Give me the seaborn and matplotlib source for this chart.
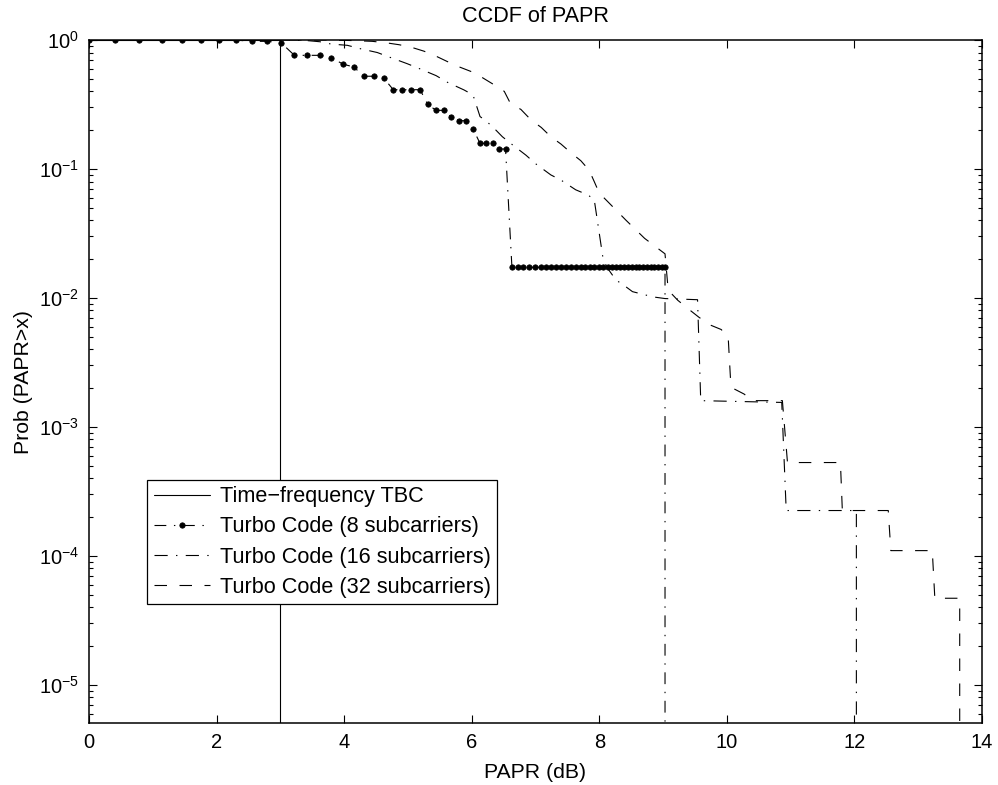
import matplotlib
matplotlib.use("Agg")
import matplotlib.pyplot as plt
import seaborn as sns

# ---------------- data ----------------
labels = ["Time\u2212frequency TBC",
          "Turbo Code (8 subcarriers)",
          "Turbo Code (16 subcarriers)",
          "Turbo Code (32 subcarriers)"]

papr_tbc = [0.0, 3.0, 3.0]
prob_tbc = [1.0, 1.0, 0.0]

papr_8 = [0.00, 0.41, 0.79, 1.14, 1.46, 1.76, 2.04, 2.30, 2.55, 2.79,
          3.01, 3.22, 3.42, 3.62, 3.80, 3.98, 4.15, 4.31, 4.47, 4.62,
          4.77, 4.91, 5.05, 5.19, 5.31, 5.44, 5.56, 5.68, 5.80, 5.91,
          6.02, 6.13, 6.23, 6.33, 6.43, 6.53, 6.63, 6.72, 6.81, 6.90,
          6.99, 7.08, 7.16, 7.24, 7.32, 7.40, 7.48, 7.56, 7.63, 7.71,
          7.78, 7.85, 7.92, 7.99, 8.06, 8.13, 8.20, 8.26, 8.33, 8.39,
          8.45, 8.51, 8.57, 8.63, 8.69, 8.75, 8.81, 8.86, 8.92, 8.98,
          9.03, 9.08]
prob_8 = [1.0, 1.0, 1.0, 1.0, 1.0, 1.0, 1.0, 1.0, 0.977, 0.977,
          0.953, 0.761, 0.761, 0.761, 0.729, 0.651, 0.618, 0.524, 0.524, 0.507,
          0.412, 0.412, 0.412, 0.412, 0.317, 0.285, 0.285, 0.253, 0.237, 0.237,
          0.205, 0.158, 0.158, 0.158, 0.143, 0.143, 0.0173, 0.0173, 0.0173, 0.0173,
          0.0173, 0.0173, 0.0173, 0.0173, 0.0173, 0.0173, 0.0173, 0.0173, 0.0173, 0.0173,
          0.0173, 0.0173, 0.0173, 0.0173, 0.0173, 0.0173, 0.0173, 0.0173, 0.0173, 0.0173,
          0.0173, 0.0173, 0.0173, 0.0173, 0.0173, 0.0173, 0.0173, 0.0173, 0.0173, 0.0173,
          0.0173, 0.0]

papr_16 = [0.0, 3.0, 3.42, 3.62, 3.80, 4.05, 4.26, 4.52, 4.70, 4.99,
           5.18, 5.44, 5.62, 5.88, 6.02, 6.13, 6.23, 6.38, 6.48, 6.61,
           6.85, 7.00, 7.24, 7.40, 7.63, 7.82, 7.92, 8.06, 8.13, 8.26,
           8.39, 8.52, 8.71, 8.84, 9.03, 9.54, 9.59, 10.86, 10.93, 12.03,
           12.07]
prob_16 = [1.0, 1.0, 0.99, 0.97, 0.93, 0.91, 0.855, 0.80, 0.74, 0.655,
           0.60, 0.53, 0.47, 0.41, 0.375, 0.255, 0.235, 0.20, 0.178, 0.158,
           0.128, 0.110, 0.090, 0.082, 0.069, 0.063, 0.058, 0.020, 0.017, 0.0138,
           0.0125, 0.0112, 0.0106, 0.0102, 0.0099, 0.0097, 0.0016, 0.00155, 0.000225, 0.000225,
           0.0]

papr_32 = [0.0, 3.80, 4.15, 4.44, 4.65, 4.86, 5.05, 5.25, 5.44, 5.62,
           5.80, 5.99, 6.17, 6.35, 6.51, 6.61, 6.77, 6.93, 7.09, 7.24,
           7.40, 7.56, 7.71, 7.84, 7.92, 8.00, 8.13, 8.42, 8.71, 9.03,
           9.08, 9.23, 9.40, 9.56, 9.73, 9.91, 10.02, 10.06, 10.09, 10.27,
           10.40, 10.87, 10.95, 11.78, 11.81, 12.53, 12.57, 13.22, 13.26, 13.65,
           13.69]
prob_32 = [1.0, 1.0, 0.99, 0.977, 0.953, 0.92, 0.88, 0.82, 0.75, 0.68,
           0.62, 0.57, 0.51, 0.45, 0.40, 0.32, 0.29, 0.24, 0.21, 0.178,
           0.156, 0.133, 0.116, 0.098, 0.080, 0.065, 0.056, 0.040, 0.029, 0.022,
           0.0115, 0.0096, 0.0082, 0.0071, 0.0062, 0.0057, 0.0050, 0.0022, 0.0020, 0.0018,
           0.0016, 0.0016, 0.00053, 0.00053, 0.000225, 0.000225, 0.00011, 0.00011, 0.000047, 0.000047,
           0.0]

x_ticks = [0, 2, 4, 6, 8, 10, 12, 14]

# ---------------- style ----------------
sns.set_theme(style="ticks")
plt.rcParams.update({
    "font.family": ["Liberation Sans", "DejaVu Sans"],
    "mathtext.fontset": "custom",
    "mathtext.rm": "Liberation Sans",
    "mathtext.it": "Liberation Sans:italic",
    "lines.scale_dashes": False,
    "xtick.direction": "in", "ytick.direction": "in",
    "xtick.top": True, "ytick.right": True,
    "xtick.major.size": 6, "ytick.major.size": 6,
    "ytick.minor.size": 3.2, "xtick.minor.size": 3,
    "xtick.major.width": 0.8, "ytick.major.width": 0.8,
    "ytick.minor.width": 0.8,
    "xtick.color": "black", "ytick.color": "black",
    "axes.edgecolor": "black", "axes.linewidth": 1.1,
    "text.color": "black", "axes.labelcolor": "black",
})

fig = plt.figure(figsize=(9.98, 7.85), dpi=100)
ax = fig.add_axes([0.0892, 0.079, 0.8948, 0.870])

lw = 0.8
sns.lineplot(x=papr_tbc, y=prob_tbc, ax=ax, color="black", linewidth=lw,
             estimator=None, sort=False, linestyle="-")
sns.lineplot(x=papr_8, y=prob_8, ax=ax, color="black", linewidth=lw,
             estimator=None, sort=False, linestyle=(0, (8.5, 5.5, 1, 5.5)),
             marker="o", markersize=3.9, markeredgecolor="black",
             markerfacecolor="black", markeredgewidth=0.5)
sns.lineplot(x=papr_16, y=prob_16, ax=ax, color="black", linewidth=lw,
             estimator=None, sort=False, linestyle=(0, (9.5, 6, 1, 6)))
sns.lineplot(x=papr_32, y=prob_32, ax=ax, color="black", linewidth=lw,
             estimator=None, sort=False, linestyle=(0, (9, 9)))

ax.set_yscale("log", nonpositive="clip")
ax.set_xlim(0, 14)
ax.set_ylim(5.07e-6, 1.0)
ax.set_xticks(x_ticks)
ax.set_xticklabels([str(t) for t in x_ticks])
ax.tick_params(axis="both", which="major", labelsize=14.5, pad=7)
ax.minorticks_on()
ax.tick_params(axis="x", which="minor", bottom=False, top=False)

ax.set_title("CCDF of PAPR", fontsize=15.6, pad=13)
ax.set_xlabel("PAPR (dB)", fontsize=15.3, labelpad=8)
ax.set_ylabel("Prob (PAPR>x)", fontsize=15.3, labelpad=4)

for s in ax.spines.values():
    s.set_visible(True)
    s.set_color("black")

leg = ax.legend(handles=ax.lines[:4], labels=labels, loc="lower left",
                bbox_to_anchor=(0.065, 0.174), borderaxespad=0,
                fontsize=15.6, frameon=True, fancybox=False, framealpha=1,
                edgecolor="black", handlelength=2.6, handletextpad=0.45,
                labelspacing=0.42, borderpad=0.3)
leg.get_frame().set_linewidth(0.9)

fig.savefig("out.png", dpi=100, facecolor="white")
